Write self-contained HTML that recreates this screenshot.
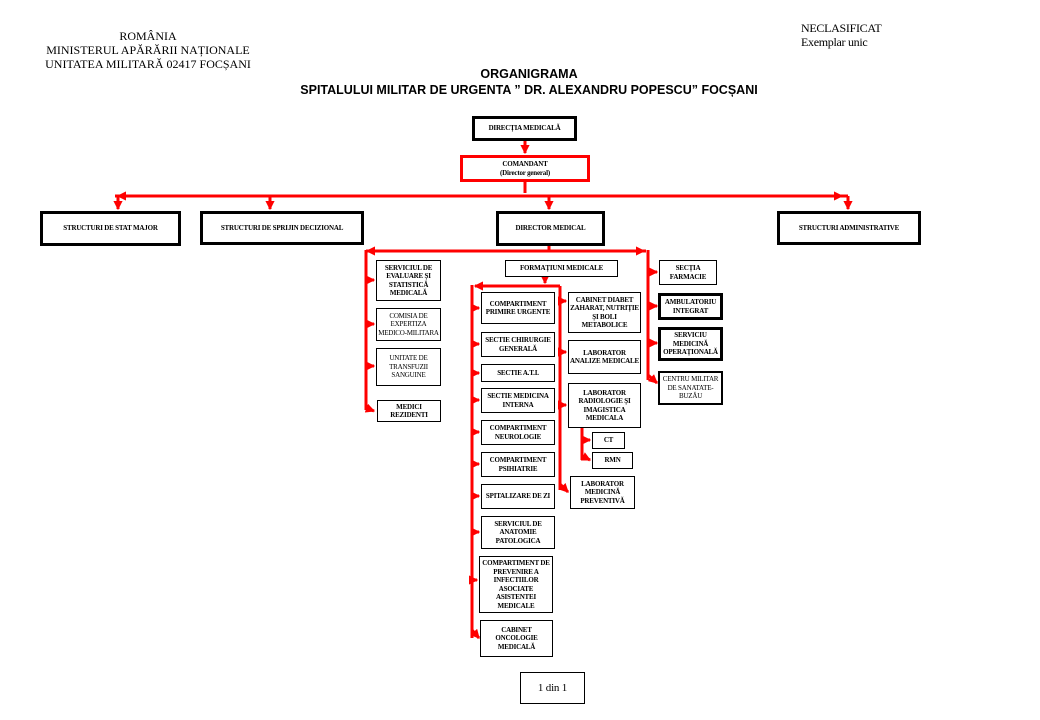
<!DOCTYPE html>
<html><head><meta charset="utf-8"><style>
body{margin:0;width:1040px;height:720px;background:#fff;position:relative;overflow:hidden;font-family:"Liberation Serif",serif;}
.t{position:absolute;font-size:12px;line-height:14px;color:#000;}
.b{position:absolute;box-sizing:border-box;border:1px solid #000;display:flex;align-items:center;justify-content:center;text-align:center;font-size:7px;line-height:8.5px;font-weight:bold;background:#fff;letter-spacing:-0.2px;padding:0 1px;}
.b3{border-width:3px;}
.b2{border-width:2px;}
.n{font-weight:normal;}
svg{position:absolute;left:0;top:0;}
</style></head><body>
<div class="t" style="left:30px;top:29px;width:236px;text-align:center">ROMÂNIA<br>MINISTERUL APĂRĂRII NAȚIONALE<br>UNITATEA MILITARĂ 02417 FOCȘANI</div>
<div class="t" style="left:801px;top:21px;letter-spacing:-0.3px">NECLASIFICAT<br>Exemplar unic</div>
<div class="t" style="left:250px;top:66px;width:558px;text-align:center;font-family:'Liberation Sans',sans-serif;font-weight:bold;font-size:12.5px;line-height:16px">ORGANIGRAMA<br>SPITALULUI MILITAR DE URGENTA ” DR. ALEXANDRU POPESCU” FOCȘANI</div>

<svg width="1040" height="720">
<defs><marker id="a" viewBox="0 0 4 4" markerWidth="3.1" markerHeight="3.1" refX="3.5" refY="2" orient="auto" markerUnits="strokeWidth"><path d="M0,0 L4,2 L0,4z" fill="red"/></marker></defs>
<g stroke="red" stroke-width="3" fill="none">
<path d="M525,140 V153" marker-end="url(#a)"/>
<path d="M525,181 V193"/>
<path d="M848,196 H118" marker-end="url(#a)"/>
<path d="M118,196 V209" marker-end="url(#a)"/>
<path d="M270,196 V209" marker-end="url(#a)"/>
<path d="M549,196 V209" marker-end="url(#a)"/>
<path d="M115,196 H842" marker-end="url(#a)"/>
<path d="M848,196 V209" marker-end="url(#a)"/>
<path d="M549,246 V250"/>
<path d="M646,251 H367" marker-end="url(#a)"/>
<path d="M366,251 H644" marker-end="url(#a)"/>
<path d="M366,250 V410"/>
<path d="M648,250 V380"/>
<path d="M366,280 H374" marker-end="url(#a)"/>
<path d="M366,324 H374" marker-end="url(#a)"/>
<path d="M366,366 H374" marker-end="url(#a)"/>
<path d="M366,396 V408 L374,411" marker-end="url(#a)"/>
<path d="M648,272 H657" marker-end="url(#a)"/>
<path d="M648,306 H657" marker-end="url(#a)"/>
<path d="M648,343 H657" marker-end="url(#a)"/>
<path d="M648,375 L657,383" marker-end="url(#a)"/>
<path d="M545,276 V283" marker-end="url(#a)"/>
<path d="M560,286 H475" marker-end="url(#a)"/>
<path d="M472,285 V638"/>
<path d="M560,286 V490"/>
<path d="M472,308 H479" marker-end="url(#a)"/>
<path d="M472,344 H479" marker-end="url(#a)"/>
<path d="M472,373 H479" marker-end="url(#a)"/>
<path d="M472,400 H479" marker-end="url(#a)"/>
<path d="M472,432 H479" marker-end="url(#a)"/>
<path d="M472,464 H479" marker-end="url(#a)"/>
<path d="M472,496 H479" marker-end="url(#a)"/>
<path d="M472,532 H479" marker-end="url(#a)"/>
<path d="M472,580 H477" marker-end="url(#a)"/>
<path d="M472,630 L479,638" marker-end="url(#a)"/>
<path d="M560,301 H566" marker-end="url(#a)"/>
<path d="M560,352 H566" marker-end="url(#a)"/>
<path d="M560,405 H566" marker-end="url(#a)"/>
<path d="M560,484 L568,492" marker-end="url(#a)"/>
<path d="M582,428 V460"/>
<path d="M582,440 H590" marker-end="url(#a)"/>
<path d="M582,456 L590,460" marker-end="url(#a)"/>
</g>
</svg>

<div class="b b3" style="left:472px;top:116px;width:105px;height:25px">DIRECȚIA MEDICALĂ</div>
<div class="b b3" style="left:460px;top:155px;width:130px;height:27px;border-color:red">COMANDANT<br>(Director general)</div>
<div class="b b3" style="left:40px;top:211px;width:141px;height:35px">STRUCTURI DE STAT MAJOR</div>
<div class="b b3" style="left:200px;top:211px;width:164px;height:34px">STRUCTURI DE SPRIJIN DECIZIONAL</div>
<div class="b b3" style="left:496px;top:211px;width:109px;height:35px">DIRECTOR MEDICAL</div>
<div class="b b3" style="left:777px;top:211px;width:144px;height:34px">STRUCTURI ADMINISTRATIVE</div>

<div class="b" style="left:376px;top:260px;width:65px;height:41px">SERVICIUL DE EVALUARE ȘI STATISTICĂ MEDICALĂ</div>
<div class="b n" style="left:376px;top:308px;width:65px;height:33px">COMISIA DE EXPERTIZA MEDICO-MILITARA</div>
<div class="b n" style="left:376px;top:348px;width:65px;height:38px">UNITATE DE TRANSFUZII SANGUINE</div>
<div class="b" style="left:377px;top:400px;width:64px;height:22px">MEDICI REZIDENTI</div>

<div class="b" style="left:505px;top:260px;width:113px;height:17px">FORMAȚIUNI MEDICALE</div>

<div class="b" style="left:659px;top:260px;width:58px;height:25px">SECȚIA FARMACIE</div>
<div class="b b3" style="left:658px;top:293px;width:65px;height:27px">AMBULATORIU INTEGRAT</div>
<div class="b b3" style="left:658px;top:327px;width:65px;height:34px">SERVICIU MEDICINĂ OPERAȚIONALĂ</div>
<div class="b b2 n" style="left:658px;top:371px;width:65px;height:34px">CENTRU MILITAR DE SANATATE-BUZĂU</div>

<div class="b" style="left:481px;top:292px;width:74px;height:32px">COMPARTIMENT PRIMIRE URGENTE</div>
<div class="b" style="left:481px;top:332px;width:74px;height:25px">SECTIE CHIRURGIE GENERALĂ</div>
<div class="b" style="left:481px;top:364px;width:74px;height:18px">SECTIE A.T.I.</div>
<div class="b" style="left:481px;top:388px;width:74px;height:25px">SECTIE MEDICINA INTERNA</div>
<div class="b" style="left:481px;top:420px;width:74px;height:25px">COMPARTIMENT NEUROLOGIE</div>
<div class="b" style="left:481px;top:452px;width:74px;height:25px">COMPARTIMENT PSIHIATRIE</div>
<div class="b" style="left:481px;top:484px;width:74px;height:25px">SPITALIZARE DE ZI</div>
<div class="b" style="left:481px;top:516px;width:74px;height:33px">SERVICIUL DE ANATOMIE PATOLOGICA</div>
<div class="b" style="left:479px;top:556px;width:74px;height:57px">COMPARTIMENT DE PREVENIRE A INFECTIILOR ASOCIATE ASISTENTEI MEDICALE</div>
<div class="b" style="left:480px;top:620px;width:73px;height:37px">CABINET ONCOLOGIE MEDICALĂ</div>

<div class="b" style="left:568px;top:292px;width:73px;height:41px">CABINET DIABET ZAHARAT, NUTRIȚIE ȘI BOLI METABOLICE</div>
<div class="b" style="left:568px;top:340px;width:73px;height:34px">LABORATOR ANALIZE MEDICALE</div>
<div class="b" style="left:568px;top:383px;width:73px;height:45px">LABORATOR RADIOLOGIE ȘI IMAGISTICA MEDICALA</div>
<div class="b" style="left:592px;top:432px;width:33px;height:17px">CT</div>
<div class="b" style="left:592px;top:452px;width:41px;height:17px">RMN</div>
<div class="b" style="left:570px;top:476px;width:65px;height:33px">LABORATOR MEDICINĂ PREVENTIVĂ</div>

<div class="b n" style="left:520px;top:672px;width:65px;height:32px;font-size:11px">1 din 1</div>
</body></html>
